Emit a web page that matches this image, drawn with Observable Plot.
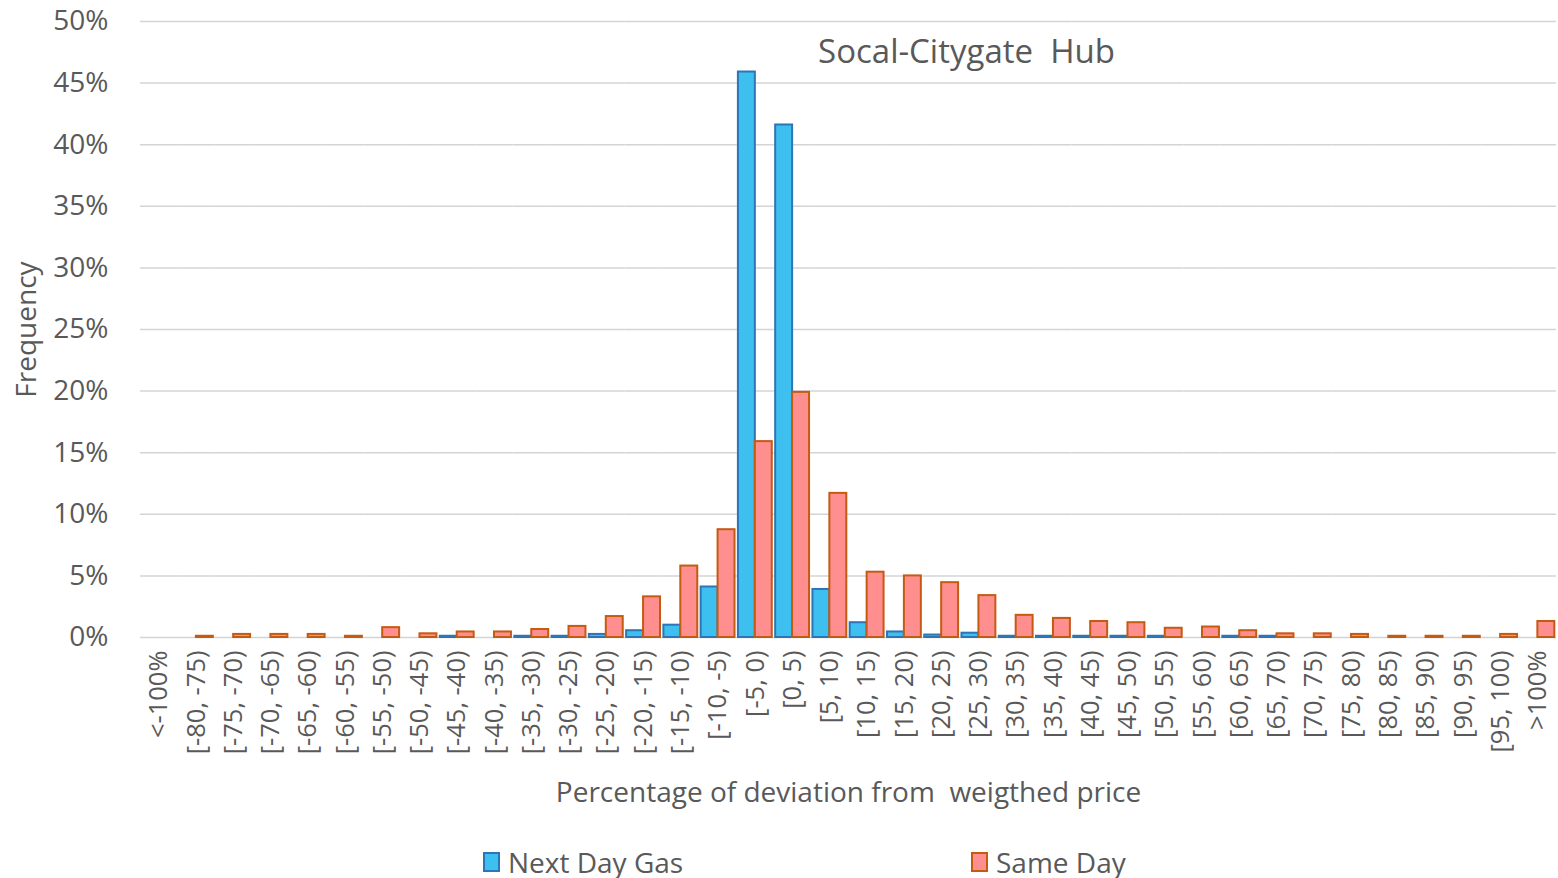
<!DOCTYPE html>
<html><head><meta charset="utf-8">
<script src="https://cdn.jsdelivr.net/npm/d3@7"></script>
<script src="https://cdn.jsdelivr.net/npm/@observablehq/plot@0.6"></script>
<style>
body{margin:0;background:#fff;font-family:"Open Sans",sans-serif;}
#wrap{position:relative;width:1558px;}
#legend{position:relative;height:36px;font-size:28px;color:#595959;}
.item{position:absolute;top:0;display:flex;align-items:center;height:40px;}
.sw{width:13px;height:16px;border:2px solid;margin-right:8px;box-sizing:content-box;}
</style></head><body>
<div id="wrap"><div id="chart"></div><div id="legend"></div></div>
<script>
const categories = ["<-100%", "[-80, -75)", "[-75, -70)", "[-70, -65)", "[-65, -60)", "[-60, -55)", "[-55, -50)", "[-50, -45)", "[-45, -40)", "[-40, -35)", "[-35, -30)", "[-30, -25)", "[-25, -20)", "[-20, -15)", "[-15, -10)", "[-10, -5)", "[-5, 0)", "[0, 5)", "[5, 10)", "[10, 15)", "[15, 20)", "[20, 25)", "[25, 30)", "[30, 35)", "[35, 40)", "[40, 45)", "[45, 50)", "[50, 55)", "[55, 60)", "[60, 65)", "[65, 70)", "[70, 75)", "[75, 80)", "[80, 85)", "[85, 90)", "[90, 95)", "[95, 100)", ">100%"];
const series = ["Next Day Gas", "Same Day"];
const nextDayGas = [0, 0, 0, 0, 0, 0, 0, 0, 0.1, 0, 0.1, 0.1, 0.25, 0.55, 1.0, 4.1, 45.9, 41.6, 3.9, 1.2, 0.45, 0.2, 0.35, 0.1, 0.1, 0.1, 0.1, 0.1, 0, 0.1, 0.1, 0, 0, 0, 0, 0, 0, 0];
const sameDay = [0, 0.1, 0.25, 0.25, 0.25, 0.1, 0.8, 0.3, 0.45, 0.45, 0.65, 0.9, 1.7, 3.3, 5.8, 8.75, 15.9, 19.9, 11.7, 5.3, 5.0, 4.45, 3.4, 1.8, 1.55, 1.3, 1.2, 0.75, 0.85, 0.55, 0.3, 0.3, 0.25, 0.1, 0.1, 0.1, 0.25, 1.3];
const fills = ["#3DBFF0", "#FF8F8F"];
const strokes = ["#2E75B6", "#C55A11"];
const yTicks = [0, 5, 10, 15, 20, 25, 30, 35, 40, 45, 50];
const title = "Socal-Citygate  Hub";
const xLabel = "Percentage of deviation from  weigthed price";
const yLabel = "Frequency";

const data = categories.flatMap((c, i) => [
  {cat: c, series: series[0], value: nextDayGas[i]},
  {cat: c, series: series[1], value: sameDay[i]}
]);

const font = '"Open Sans", sans-serif';
const chart = Plot.plot({
  width: 1558, height: 842,
  marginLeft: 140, marginRight: 2, marginTop: 21, marginBottom: 205,
  style: {fontFamily: font, background: "#fff", color: "#595959"},
  fx: {domain: categories, padding: 0, round: false, label: null},
  x: {domain: series, paddingInner: 0, paddingOuter: 0.1, round: false, axis: null},
  y: {domain: [0, 50], label: null},
  marks: [
    Plot.gridY(yTicks, {stroke: "#d4d4d4", strokeOpacity: 1, strokeWidth: 1.5}),
    Plot.barY(data.filter(d => d.series === series[0]), {fx: "cat", x: "series", y: "value", filter: d => d.value > 0, fill: fills[0], stroke: strokes[0], strokeWidth: 2}),
    Plot.barY(data.filter(d => d.series === series[1]), {fx: "cat", x: "series", y: "value", filter: d => d.value > 0, fill: fills[1], stroke: strokes[1], strokeWidth: 2}),
    Plot.axisY({ticks: yTicks, tickFormat: d => d + "%", tickSize: 0, tickPadding: 32, fontSize: 28, label: null}),
    Plot.axisFx({anchor: "bottom", tickRotate: -90, tickSize: 0, tickPadding: 13, fontSize: 25.5, label: null}),
    Plot.text([title], {frameAnchor: "top", lineAnchor: "middle", dx: 118, dy: 31, fontSize: 33, fill: "#595959", facet: "super"}),
    Plot.text([xLabel], {frameAnchor: "bottom", lineAnchor: "middle", dy: 156, fontSize: 28, fill: "#595959", facet: "super"}),
    Plot.text([yLabel], {frameAnchor: "left", lineAnchor: "middle", textAnchor: "middle", dx: -113, rotate: -90, fontSize: 28, fill: "#595959", facet: "super"})
  ]
});
document.getElementById("chart").appendChild(chart);

const legend = document.getElementById("legend");
const lefts = [483, 971];
series.forEach((s, i) => {
  const it = document.createElement("div");
  it.className = "item";
  it.style.left = lefts[i] + "px";
  const sw = document.createElement("span");
  sw.className = "sw";
  sw.style.background = fills[i];
  sw.style.borderColor = strokes[i];
  const tx = document.createElement("span");
  tx.textContent = s;
  it.appendChild(sw); it.appendChild(tx);
  legend.appendChild(it);
});
</script>
</body></html>
